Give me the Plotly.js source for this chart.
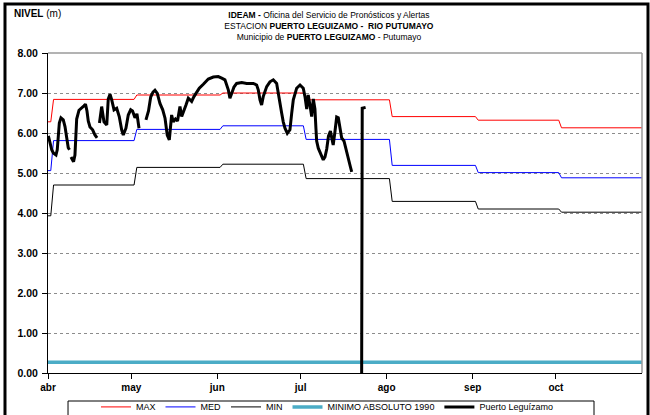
<!DOCTYPE html>
<html><head><meta charset="utf-8">
<script src="https://cdn.plot.ly/plotly-3.0.1.min.js"></script>
<style>html,body{margin:0;padding:0;background:#fff}#chart{width:650px;height:415px}</style>
</head><body><div id="chart"></div>
<script>
// ---- data ----
const monthTicks = ['2010-04-01','2010-05-01','2010-06-01','2010-07-01','2010-08-01','2010-09-01','2010-10-01'];
const monthLabels = ['abr','may','jun','jul','ago','sep','oct'];
const stepMonths = ['2010-03','2010-04','2010-05','2010-06','2010-07','2010-08','2010-09','2010-10','2010-11'];
const maxVals = [6.28, 6.84, 6.95, 7.00, 6.83, 6.41, 6.32, 6.13];
const medVals = [5.06, 5.81, 6.09, 6.18, 5.84, 5.19, 5.01, 4.88];
const minVals = [3.93, 4.70, 5.14, 5.22, 4.86, 4.29, 4.10, 4.02];
const minimoAbsoluto = 0.27;
const seasonRange = ['2010-04-01','2010-11-01'];

const puertoDates = [
 '2010-04-01 03:00','2010-04-01 13:00','2010-04-02 08:00','2010-04-02 22:00','2010-04-03 21:00','2010-04-04 08:00',
 '2010-04-05 02:00','2010-04-05 16:00','2010-04-06 12:00','2010-04-07 03:00','2010-04-07 18:00','2010-04-08 07:00','2010-04-08 18:00',
 null,
 '2010-04-09 07:00','2010-04-10 05:00','2010-04-10 17:00','2010-04-11 08:00','2010-04-12 04:00','2010-04-13 03:00','2010-04-13 23:00',
 '2010-04-14 12:00','2010-04-15 01:00','2010-04-15 12:00','2010-04-16 03:00','2010-04-17 02:00','2010-04-17 22:00','2010-04-18 16:00',
 null,
 '2010-04-19 13:00','2010-04-20 08:00','2010-04-21 04:00','2010-04-22 04:00','2010-04-22 17:00','2010-04-23 08:00','2010-04-23 23:00',
 '2010-04-24 19:00','2010-04-25 18:00','2010-04-26 16:00','2010-04-27 13:00','2010-04-28 03:00','2010-04-29 02:00','2010-04-29 22:00',
 '2010-04-30 19:00','2010-05-01 11:00','2010-05-02 08:00','2010-05-03 01:00','2010-05-03 19:00',
 null,
 '2010-05-06 07:00','2010-05-07 05:00','2010-05-08 00:00','2010-05-08 20:00','2010-05-09 13:00','2010-05-10 09:00','2010-05-11 08:00',
 '2010-05-12 08:00','2010-05-13 04:00','2010-05-13 23:00','2010-05-14 17:00','2010-05-15 13:00','2010-05-16 03:00','2010-05-16 22:00',
 '2010-05-17 16:00','2010-05-18 13:00','2010-05-19 04:00','2010-05-19 19:00','2010-05-20 17:00','2010-05-21 13:00','2010-05-22 18:00',
 '2010-05-23 14:00','2010-05-24 14:00','2010-05-25 12:00','2010-05-26 23:00','2010-05-28 18:00','2010-05-30 13:00','2010-06-01 08:00',
 '2010-06-02 14:00','2010-06-03 18:00','2010-06-04 23:00','2010-06-05 13:00','2010-06-06 04:00','2010-06-07 00:00','2010-06-07 23:00',
 '2010-06-09 19:00','2010-06-11 14:00','2010-06-13 23:00','2010-06-15 04:00','2010-06-15 18:00','2010-06-16 09:00','2010-06-16 23:00',
 '2010-06-17 13:00','2010-06-18 19:00','2010-06-19 23:00','2010-06-21 04:00','2010-06-22 09:00','2010-06-22 23:00','2010-06-23 14:00',
 '2010-06-24 05:00','2010-06-24 18:00','2010-06-25 09:00','2010-06-26 05:00','2010-06-27 04:00','2010-06-27 19:00','2010-06-28 09:00',
 '2010-06-29 14:00','2010-06-30 19:00','2010-07-01 23:00','2010-07-02 14:00','2010-07-03 05:00','2010-07-03 18:00','2010-07-04 09:00',
 '2010-07-05 00:00','2010-07-05 14:00','2010-07-06 04:00','2010-07-06 13:00','2010-07-06 19:00','2010-07-07 09:00','2010-07-08 00:00',
 '2010-07-08 14:00','2010-07-09 04:00','2010-07-09 19:00','2010-07-10 10:00','2010-07-11 01:00','2010-07-11 18:00','2010-07-12 07:00',
 '2010-07-12 18:00','2010-07-13 09:00','2010-07-14 00:00','2010-07-14 14:00','2010-07-15 05:00','2010-07-15 19:00','2010-07-16 15:00',
 '2010-07-17 14:00','2010-07-18 10:00','2010-07-18 23:00','2010-07-19 10:00',
 null,
 '2010-07-23 00:00','2010-07-23 05:00','2010-07-24 10:00'
];
const puertoLevels = [
 5.93,5.80,5.58,5.50,5.45,5.58,
 6.25,6.38,6.33,6.16,5.85,5.63,5.58,
 null,
 5.40,5.28,5.45,6.35,6.57,6.62,6.68,
 6.72,6.55,6.30,6.15,6.08,5.95,5.88,
 null,
 6.25,6.66,6.28,6.20,6.85,6.97,6.83,
 6.58,6.62,6.41,6.08,5.95,6.12,6.45,
 6.58,6.55,6.38,6.48,6.12,
 null,
 6.33,6.55,6.90,7.02,7.07,6.99,6.74,
 6.58,6.37,5.95,5.83,6.45,6.28,6.35,
 6.30,6.66,6.41,6.55,6.70,6.87,6.79,
 6.91,7.03,7.12,7.22,7.35,7.40,7.41,
 7.37,7.33,7.08,6.87,6.99,7.15,7.24,
 7.26,7.24,7.24,7.20,7.08,6.83,6.70,
 6.91,7.16,7.28,7.33,7.24,7.03,6.74,
 6.49,6.28,6.12,5.99,6.08,6.49,6.83,
 7.12,7.20,7.12,6.91,6.60,6.95,6.70,
 6.41,6.85,6.60,6.10,5.80,5.62,5.50,
 5.40,5.33,5.40,5.60,5.92,6.05,5.85,
 5.70,6.03,6.40,6.38,6.15,5.88,5.80,
 5.50,5.30,5.15,5.03,
 null,
 0.00,6.62,6.64
];

// ---- build step series from monthly values ----
function stepSeries(vals){
  const x = [seasonRange[0], stepMonths[1] + '-02'], y = [vals[0], vals[0]];
  for (let i = 1; i < vals.length; i++){
    x.push(stepMonths[i] + '-03'); y.push(vals[i]);
    x.push(i + 1 < vals.length ? stepMonths[i + 1] + '-02' : seasonRange[1]); y.push(vals[i]);
  }
  return {x, y};
}
const sMax = stepSeries(maxVals), sMed = stepSeries(medVals), sMin = stepSeries(minVals);

const FONT = 'Liberation Sans, Arial, sans-serif';
const traces = [
  {name:'MAX', x:sMax.x, y:sMax.y, mode:'lines', line:{color:'#ff0000', width:1}},
  {name:'MED', x:sMed.x, y:sMed.y, mode:'lines', line:{color:'#0000ff', width:1}},
  {name:'MIN', x:sMin.x, y:sMin.y, mode:'lines', line:{color:'#000000', width:1}},
  {name:'MINIMO ABSOLUTO 1990', x:seasonRange, y:[minimoAbsoluto, minimoAbsoluto], mode:'lines', line:{color:'#4bacc6', width:3.5}},
  {name:'Puerto Leguízamo', x:puertoDates, y:puertoLevels, mode:'lines', connectgaps:false, line:{color:'#000000', width:3}}
];

const layout = {
  width:650, height:415,
  margin:{l:48, r:8, t:53, b:42, autoexpand:false},
  paper_bgcolor:'#ffffff', plot_bgcolor:'#ffffff',
  font:{family:FONT, color:'#000'},
  showlegend:true,
  title:{
    text:'<b>IDEAM -</b> Oficina del Servicio de Pronósticos y Alertas<br>ESTACION <b>PUERTO LEGUIZAMO -  RIO PUTUMAYO</b><br>Municipio de <b>PUERTO LEGUIZAMO</b> - Putumayo',
    font:{family:FONT, size:8.5, color:'#000'},
    x:0.506, xref:'container', xanchor:'center',
    y:0.9566, yref:'container', yanchor:'middle'
  },
  xaxis:{
    type:'date', range:seasonRange,
    tickvals:monthTicks, ticktext:monthLabels,
    tickfont:{family:FONT, size:10, color:'#000', weight:'bold'},
    ticks:'outside', ticklen:5, tickcolor:'#000',
    showline:true, linecolor:'#000', linewidth:1,
    showgrid:false, zeroline:false, fixedrange:true
  },
  yaxis:{
    range:[0,8], tickvals:[0,1,2,3,4,5,6,7,8], tickformat:'.2f',
    tickfont:{family:FONT, size:10.5, color:'#000', weight:'bold'},
    ticks:'outside', ticklen:5, tickcolor:'#000', ticklabelstandoff:2,
    showline:true, linecolor:'#000', linewidth:1,
    showgrid:true, gridcolor:'#8c8c8c', griddash:'dot', gridwidth:1,
    zeroline:false, fixedrange:true
  },
  legend:{
    orientation:'h', x:0.0808, xanchor:'left', y:-0.106, yanchor:'middle',
    font:{family:FONT, size:9, color:'#000'},
    bgcolor:'rgba(0,0,0,0)', borderwidth:0, itemwidth:30,
    traceorder:'normal'
  },
  annotations:[
    {text:'<b>NIVEL</b> (m)', xref:'paper', yref:'paper', x:-0.0606, y:1.122, xanchor:'left', yanchor:'middle', showarrow:false,
     font:{family:FONT, size:10, color:'#000'}}
  ],
  shapes:[
    {type:'line', xref:'paper', yref:'paper', x0:0, x1:1, y0:1, y1:1, line:{color:'#9a9a9a', width:1.5}},
    {type:'line', xref:'paper', yref:'paper', x0:1, x1:1, y0:0, y1:1, line:{color:'#9a9a9a', width:1.5}},
    {type:'rect', xref:'paper', yref:'paper', x0:-0.0724, x1:1.0101, y0:-0.2, y1:1.153, line:{color:'#000', width:3}},
    {type:'rect', xref:'paper', yref:'paper', x0:0.0337, x1:0.9192, y0:-0.0875, y1:-0.2, line:{color:'#000', width:1}}
  ]
};
Plotly.newPlot('chart', traces, layout, {displayModeBar:false, staticPlot:true});
</script>
</body></html>
